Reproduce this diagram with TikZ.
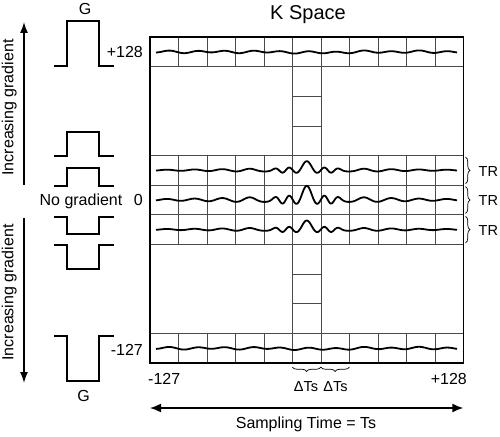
\documentclass[tikz,border=0pt]{standalone}
\usepackage{fontspec}
\setmainfont{Liberation Sans}
\usetikzlibrary{arrows.meta,decorations.pathreplacing}
\definecolor{gridline}{HTML}{4A4A4A}
\tikzset{
  lbl/.style={inner sep=0pt, font=\fontsize{16}{19}\selectfont},
  sml/.style={inner sep=0pt, font=\fontsize{14.5}{17}\selectfont},
  big/.style={inner sep=0pt, font=\fontsize{20}{24}\selectfont},
  frame/.style={draw, line width=1.2pt},
  cell/.style={draw=gridline, line width=0.65pt},
  pulse/.style={line width=1.2pt, line join=miter},
  wave/.style={line width=1.8pt, line join=round},
  arr/.style={-{Latex[length=11pt,width=8pt]}, line width=1.5pt},
  dblarr/.style={{Latex[length=11pt,width=9pt]}-{Latex[length=11pt,width=9pt]}, line width=1.5pt},
  brc/.style={decorate, decoration={brace, amplitude=4.5pt}, line width=0.7pt},
  declare function={
    echo(\u,\p,\q)=\p*sin(25.7*\u)/(0.4488*\u)*exp(-((\u/45)*(\u/45)))
      +0.22*\p*sin(25.7*abs(\u))*exp(-(((abs(\u)-22)/12)*((abs(\u)-22)/12)))
      +\q*cos(13*abs(\u)-21)*exp(-abs(\u)/80)/(1+exp(-(abs(\u)-38)/4));
    ripple(\u)=1.0*cos(13*\u-21)+0.4*sin(7*\u+30)-0.8*exp(-(((\u-10)/30)*((\u-10)/30)));
  }
}
\newcommand{\colw}{28.485}
\newcommand{\rowh}{29.636}

\begin{document}
\begin{tikzpicture}[x=1pt, y=-1pt]
  \useasboundingbox (0,0) rectangle (500,436);
  % k-space lines and the centre column
  \foreach \r in {0,4,5,6,10}{
    \draw[cell] (150,37+\r*\rowh) rectangle (463.3,37+\r*\rowh+\rowh);
    \foreach \c in {1,...,10} \draw[cell] (150+\c*\colw,37+\r*\rowh) -- ++(0,\rowh);
  }
  \foreach \r in {1,2,3,7,8,9}
    \draw[cell] (150+5*\colw,37+\r*\rowh) rectangle (150+6*\colw,37+\r*\rowh+\rowh);
  \draw[frame] (150,37) rectangle (463.3,363);

  % echoes
  \foreach \yc in {51.8,348.2}
    \draw[wave] plot[domain=-150.8:150.2, samples=301] ({306.8+\x},{\yc-ripple(\x)});
  \foreach \yc/\amp/\ext in {170.2/9/3, 199.8/14/5, 229.5/9/3}
    \draw[wave] plot[domain=-150.8:150.2, samples=301] ({306.8+\x},{\yc-echo(\x,\amp,\ext)});

  % phase encoding gradients
  \foreach \b/\t in {66/21,156/132,186/168,217/234,245/269,336/381}
    \draw[pulse] (54,\b) -- (67,\b) -- (67,\t) -- (99,\t) -- (99,\b) -- (114,\b);

  \node[big, anchor=base] (title) at (308,20) {K Space};
  \node[lbl, anchor=base] (gtop) at (85,15) {G};
  \node[lbl, anchor=base] (gbot) at (83.5,401) {G};
  \node[lbl, anchor=base east] (kmax) at (143,57) {+128};
  \node[lbl, anchor=base east] (kzero) at (143,205) {0};
  \node[lbl, anchor=base] (nograd) at (81,205) {No gradient};
  \node[lbl, anchor=base east] (kmin) at (143,355) {-127};
  \node[lbl, rotate=90] (incup) at (9.3,107.5) {Increasing gradient};
  \node[lbl, rotate=90] (incdn) at (9.3,292.5) {Increasing gradient};
  \node[lbl, anchor=base west] (tmin) at (148,384) {-127};
  \node[lbl, anchor=base east] (tmax) at (467,384) {+128};
  \node[sml, anchor=base] (dt1) at (306,391.7) {ΔTs};
  \node[sml, anchor=base] (dt2) at (335.5,391.7) {ΔTs};
  \node[lbl, anchor=base] (ts) at (306,428.3) {Sampling Time = Ts};

  % TR braces
  \foreach \r in {4,5,6}{
    \draw[brc] (465.5,37+\r*\rowh+1.5) -- (465.5,37+\r*\rowh+\rowh-1.5);
    \node[sml, anchor=base west] (tr\r) at (478.5,37+\r*\rowh+20.8) {TR};
  }
  \draw[brc] (150+6*\colw,367) -- (150+5*\colw,367);
  \draw[brc] (150+7*\colw,367) -- (150+6*\colw,367);

  \coordinate (upA) at (24,185);
  \coordinate (upB) at (24,22);
  \coordinate (dnA) at (24,218);
  \coordinate (dnB) at (24,383);
  \coordinate (tsL) at (150,408);
  \coordinate (tsR) at (463.3,408);
  \draw[arr] (upA) -- (upB);
  \draw[arr] (dnA) -- (dnB);
  \draw[dblarr] (tsL) -- (tsR);
\end{tikzpicture}
\end{document}
